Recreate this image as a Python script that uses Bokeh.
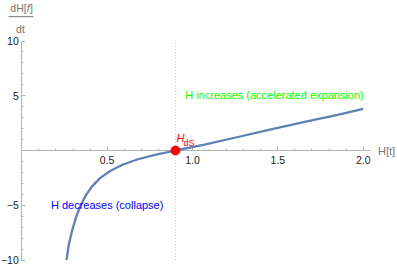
from bokeh.plotting import figure
from bokeh.models import Label, FixedTicker
from bokeh.embed import file_html
from bokeh.resources import INLINE

# ---- data ----
H_vals = [0.262, 0.275, 0.295, 0.320, 0.345, 0.375, 0.41, 0.46, 0.52, 0.59, 0.68,
          0.78, 0.90, 1.07, 1.26, 1.46, 1.65, 1.85, 2.0]
dH_vals = [-10.0, -8.6, -7.3, -6.0, -5.0, -4.1, -3.3, -2.5, -1.85, -1.3, -0.8,
           -0.4, 0.0, 0.53, 1.21, 1.92, 2.59, 3.26, 3.81]

H_dS = [0.9]
dH_dS = [0.0]
guide_y = [-10.0, 10.0]

x_ticks = [0.5, 1.0, 1.5, 2.0]
x_tick_labels = ["0.5", "1.0", "1.5", "2.0"]
x_minor = [0.1, 0.2, 0.3, 0.4, 0.6, 0.7, 0.8, 0.9, 1.1, 1.2, 1.3, 1.4, 1.6, 1.7, 1.8, 1.9]
y_ticks = [-10, -5, 5, 10]
y_tick_labels = ["\u221210", "\u22125", "5", "10"]
y_minor = [-9, -8, -7, -6, -4, -3, -2, -1, 1, 2, 3, 4, 6, 7, 8, 9]

label_up = "H increases (accelerated expansion)"
label_up_pos = (1.48, 5.1)
label_down = "H decreases (collapse)"
label_down_pos = (0.5, -5.0)

# ---- layout ----
W, H = 397, 268
X0_PX, XS = 21.3, 170.7          # pixel of x=0, px per unit
Y0_PX, YS = 150.0, 10.95         # pixel of y=0, px per unit
x_start, x_end = -X0_PX / XS, (W - X0_PX) / XS
y_end, y_start = Y0_PX / YS, -(H - Y0_PX) / YS

FONT = "Liberation Sans"
AXIS_COL = "#b3b3b3"
LABEL_COL = "#747474"

p = figure(width=W, height=H, x_range=(x_start, x_end), y_range=(y_start, y_end),
           output_backend="svg", toolbar_location=None, min_border=0)
p.min_border_left = p.min_border_right = p.min_border_top = p.min_border_bottom = 0
p.outline_line_color = None
p.xgrid.visible = False
p.ygrid.visible = False
p.background_fill_color = "white"
p.border_fill_color = "white"

for ax in (p.xaxis, p.yaxis):
    ax.fixed_location = 0
    ax.axis_line_color = AXIS_COL
    ax.major_tick_line_color = AXIS_COL
    ax.minor_tick_line_color = AXIS_COL
    ax.major_tick_in = 4
    ax.major_tick_out = 0
    ax.minor_tick_in = 2
    ax.minor_tick_out = 0
    ax.major_label_text_font = FONT
    ax.major_label_text_font_size = "10.5px"
    ax.major_label_text_color = "#222222"
    ax.level = "underlay"

p.xaxis.bounds = (0, 2.04)
p.xaxis.ticker = FixedTicker(ticks=x_ticks, minor_ticks=x_minor)
p.xaxis.major_label_overrides = {t: s for t, s in zip(x_ticks, x_tick_labels)}
p.xaxis.major_label_standoff = 5

p.yaxis.bounds = (-10, 10)
p.yaxis.ticker = FixedTicker(ticks=y_ticks, minor_ticks=y_minor)
p.yaxis.major_label_overrides = {t: s for t, s in zip(y_ticks, y_tick_labels)}
p.yaxis.major_label_standoff = 3

# dotted guide at H_dS
p.segment(x0=H_dS, y0=[guide_y[0]], x1=H_dS, y1=[guide_y[1]],
          line_color="#c8c8c8", line_dash="1 2", line_width=1)

# curve
p.line(H_vals, dH_vals, line_color="#5e81b5", line_width=2.3)

# de Sitter point
p.scatter(H_dS, dH_dS, size=9, color="#ff0000")

# H_dS label
p.add_layout(Label(x=H_dS[0], y=dH_dS[0], x_offset=1, y_offset=12.5, text="H",
                   text_font=FONT, text_font_size="11px", text_font_style="italic",
                   text_color="#ff0000", text_baseline="middle"))
p.add_layout(Label(x=H_dS[0], y=dH_dS[0], x_offset=8, y_offset=8, text="dS",
                   text_font=FONT, text_font_size="9px",
                   text_color="#ff0000", text_baseline="middle"))

# region texts
p.add_layout(Label(x=label_up_pos[0], y=label_up_pos[1], text=label_up,
                   text_font=FONT, text_font_size="11px", text_color="#00ff00",
                   text_align="center", text_baseline="middle"))
p.add_layout(Label(x=label_down_pos[0], y=label_down_pos[1], text=label_down,
                   text_font=FONT, text_font_size="11px", text_color="#0000ff",
                   text_align="center", text_baseline="middle"))

# x axis label at end of axis
p.add_layout(Label(x=2.04, y=0, x_offset=8, text="H[t]", text_font=FONT,
                   text_font_size="11px", text_color=LABEL_COL,
                   text_align="left", text_baseline="middle"))

# y axis label as a fraction at top of axis
num_common = dict(x=0, y=10, text_font=FONT, text_font_size="10.5px",
                  text_color=LABEL_COL, text_baseline="middle", text_align="left")
p.add_layout(Label(x_offset=-11.5, y_offset=33, text="dH[", **num_common))
p.add_layout(Label(x_offset=5.0, y_offset=33, text="f", text_font_style="italic", **num_common))
p.add_layout(Label(x_offset=8.3, y_offset=33, text="]", **num_common))
p.add_layout(Label(x=0, y=10, x_offset=-1.3, y_offset=12, text="dt", text_font=FONT,
                   text_font_size="10.5px", text_color=LABEL_COL,
                   text_align="center", text_baseline="middle"))
bar_y = 10 + 24.3 / YS
p.segment(x0=[-13.3 / XS], y0=[bar_y], x1=[11.7 / XS], y1=[bar_y],
          line_color=LABEL_COL, line_width=1)

open("out.html", "w").write(file_html(p, INLINE))
